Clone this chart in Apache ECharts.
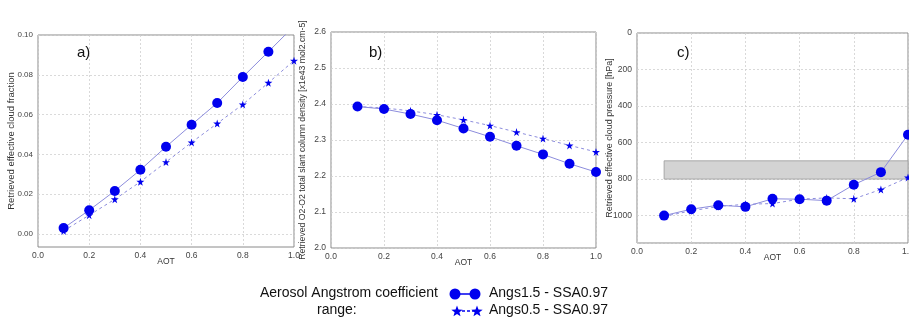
<!DOCTYPE html>
<html><head><meta charset="utf-8">
<script src="https://cdn.jsdelivr.net/npm/echarts@6/dist/echarts.min.js"></script>
<style>html,body{margin:0;padding:0;background:#fff}#c{width:909px;height:320px}</style>
</head><body><div id="c"></div>
<script>
var aot = [0.1,0.2,0.3,0.4,0.5,0.6,0.7,0.8,0.9,1.0];
var xTicks = [0.0,0.2,0.4,0.6,0.8,1.0];
var cfTicks = [0.00,0.02,0.04,0.06,0.08,0.10];
// panel a: cloud fraction
var cfAngs15 = [0.0029,0.0119,0.0216,0.0322,0.0438,0.0549,0.0658,0.0789,0.0916,0.1045];
var cfAngs05 = [0.0015,0.0094,0.0174,0.0262,0.0361,0.0460,0.0555,0.0651,0.0760,0.0871];
// panel b: O2-O2 SCD
var scdAngs15 = [2.393,2.386,2.372,2.355,2.332,2.309,2.284,2.260,2.234,2.211];
var scdAngs05 = [2.393,2.389,2.381,2.370,2.356,2.340,2.322,2.304,2.285,2.267];
// panel c: cloud pressure
var cpAngs15 = [1000,965,943,952,908,910,918,831,762,557];
var cpAngs05 = [1004,974,950,938,934,910,903,908,857,791];
var bandX = [0.1,1.0];
var bandY = [700,800];
var seriesNames = ['Angs1.5 - SSA0.97','Angs0.5 - SSA0.97'];
var panelLabels = ['a)','b)','c)'];
var yNames = ['Retrieved effective cloud fraction','Retrieved O2-O2 total slant column density [x1e43 mol2.cm-5]','Retrieved effective cloud pressure [hPa]'];

var MK='#0000ee', LN='#8c8cdc';
var tf='Liberation Sans';
var grids=[
 {left:38,top:35,width:256,height:212},
 {left:331,top:32,width:265,height:216},
 {left:637,top:33,width:271,height:210}
];
var nameSizes=[9.5,8.7,9];
var SL={show:true,lineStyle:{color:'#d0d0d0',type:[2,2],width:0.8}};
function xAx(i){return {gridIndex:i,type:'value',min:0,max:1,interval:0.2,name:'AOT',nameLocation:'middle',nameGap:10,nameMoveOverlap:false,
 nameTextStyle:{fontFamily:tf,fontSize:8.5,color:'#333'},
 axisLine:{show:false},axisTick:{show:false},
 axisLabel:{fontFamily:tf,fontSize:8.5,color:'#444',margin:4,formatter:function(v){return v.toFixed(1);}},
 splitLine:SL};}
function yAx(i,o){var base={gridIndex:i,type:'value',name:yNames[i],nameLocation:'middle',nameMoveOverlap:false,
 nameTextStyle:{fontFamily:tf,fontSize:nameSizes[i],color:'#333'},
 axisLine:{show:false},axisTick:{show:false},
 splitLine:SL};
 for(var k in o) base[k]=o[k]; return base;}
function pairs(ys){return aot.map(function(x,i){return [x,ys[i]];});}
function circ(i,ys,extra){var s={name:seriesNames[0],type:'line',xAxisIndex:i,yAxisIndex:i,data:pairs(ys),symbol:'circle',symbolSize:10,
 itemStyle:{color:MK},lineStyle:{color:LN,width:1},z:3,clip:true};for(var k in extra)s[k]=extra[k];return s;}
function star(i,ys){return {name:seriesNames[1],type:'line',xAxisIndex:i,yAxisIndex:i,data:pairs(ys),
 symbol:'path://M50,0 L61,35 L98,35 L68,57 L79,91 L50,70 L21,91 L32,57 L2,35 L39,35 Z',symbolSize:8,
 itemStyle:{color:MK},lineStyle:{color:LN,width:1,type:[3,3]},z:3,clip:true};}

var chart=echarts.init(document.getElementById('c'),null,{renderer:'canvas'});
var graphics=[];
var labelPos=[[77,54],[369,54],[677,54]];
panelLabels.forEach(function(t,i){graphics.push({type:'text',left:labelPos[i][0],top:labelPos[i][1]-9,style:{text:t,font:'15px '+tf,fill:'#111'}});});
graphics.push({type:'text',left:260,top:286,style:{text:'Aerosol Angstrom coefficient',font:'14px '+tf,fill:'#111'}});
graphics.push({type:'text',left:317,top:303,style:{text:'range:',font:'14px '+tf,fill:'#111'}});
graphics.push({type:'line',shape:{x1:455,y1:294,x2:475,y2:294},style:{stroke:MK,lineWidth:1.5}});
graphics.push({type:'circle',shape:{cx:455,cy:294,r:5.5},style:{fill:MK}});
graphics.push({type:'circle',shape:{cx:475,cy:294,r:5.5},style:{fill:MK}});
graphics.push({type:'line',shape:{x1:457,y1:311,x2:477,y2:311},style:{stroke:MK,lineWidth:1.5,lineDash:[3,2]}});
function starPath(cx,cy,r){var p=[];for(var k=0;k<10;k++){var a=-Math.PI/2+k*Math.PI/5;var rr=k%2?r*0.42:r;p.push([cx+rr*Math.cos(a),cy+rr*Math.sin(a)]);}return p;}
graphics.push({type:'polygon',shape:{points:starPath(457,311.5,6)},style:{fill:MK}});
graphics.push({type:'polygon',shape:{points:starPath(477,311.5,6)},style:{fill:MK}});
graphics.push({type:'text',left:489,top:286,style:{text:seriesNames[0],font:'14px '+tf,fill:'#111'}});
graphics.push({type:'text',left:489,top:303,style:{text:seriesNames[1],font:'14px '+tf,fill:'#111'}});

chart.setOption({
 animation:false,
 grid:grids.map(function(g){return {left:g.left,top:g.top,width:g.width,height:g.height,show:true,borderColor:'#8a8a8a',borderWidth:1,backgroundColor:'transparent',containLabel:false,outerBoundsMode:'none'};}),
 xAxis:[xAx(0),xAx(1),xAx(2)],
 yAxis:[
  yAx(0,{min:-0.0066,max:0.1,nameGap:22,
    axisTick:{show:false,customValues:cfTicks},
    axisLabel:{fontFamily:tf,fontSize:8,color:'#444',margin:5,customValues:cfTicks,formatter:function(v){return v.toFixed(2);}}}),
  yAx(1,{min:2.0,max:2.6,interval:0.1,nameGap:24,axisLabel:{fontFamily:tf,fontSize:8.5,color:'#444',margin:5,formatter:function(v){return v.toFixed(1);}}}),
  yAx(2,{min:0,max:1150,interval:200,inverse:true,nameGap:23,axisLabel:{fontFamily:tf,fontSize:8.5,color:'#444',margin:5,showMaxLabel:false,formatter:function(v){return String(v);}}})
 ],
 series:[
  circ(0,cfAngs15), star(0,cfAngs05),
  circ(1,scdAngs15), star(1,scdAngs05),
  circ(2,cpAngs15,{markArea:{silent:true,itemStyle:{color:'#d3d3d3',borderColor:'#999',borderWidth:0.8},data:[[{xAxis:bandX[0],yAxis:bandY[0]},{xAxis:bandX[1],yAxis:bandY[1]}]]}}),
  star(2,cpAngs05)
 ],
 graphic:graphics
});
</script></body></html>
